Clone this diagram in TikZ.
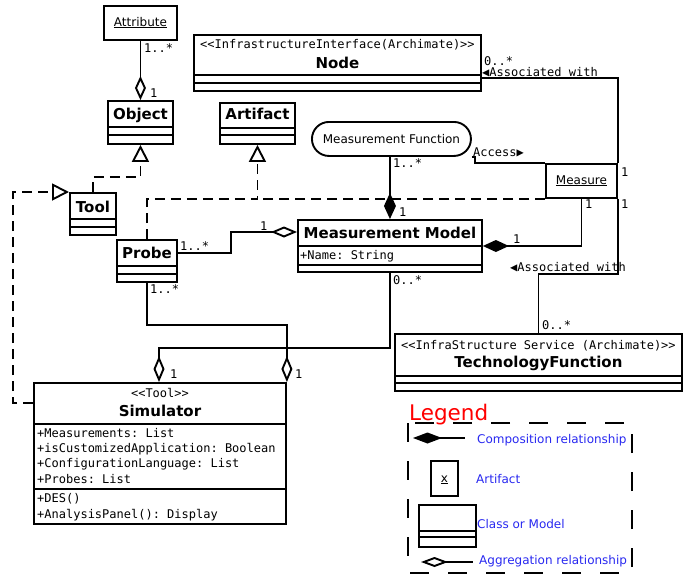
\documentclass[tikz,border=0pt]{standalone}
\usepackage{fontspec}
\setmainfont{DejaVu Sans}
\setmonofont{DejaVu Sans Mono}
\usetikzlibrary{arrows.meta,calc}

\definecolor{legblue}{RGB}{40,40,240}
\definecolor{legred}{RGB}{255,0,0}

% horizontal compartment line inside a class box, #2 pt below its top
\newcommand\compart[2]{\draw[sepline] ($(#1.north west)+(0,#2)$) -- ($(#1.north east)+(0,#2)$);}

\tikzset{
  box/.style={draw, line width=1.9pt, anchor=north west, inner sep=0pt, fill=white},
  sepline/.style={line width=1.9pt},
  conn/.style={line width=1.9pt},
  realize/.style={line width=1.9pt, dash pattern=on 10pt off 6pt},
  ttl/.style={font=\fontsize{15}{15}\selectfont\bfseries, anchor=base, inner sep=0pt},
  stereo/.style={font=\fontsize{12}{12}\selectfont\ttfamily, anchor=base, inner sep=0pt},
  attrtxt/.style={font=\fontsize{12}{12}\selectfont\ttfamily, anchor=base west, inner sep=0pt},
  sanstxt/.style={font=\fontsize{12}{12}\selectfont, anchor=base, inner sep=0pt},
  mult/.style={font=\fontsize{12}{12}\selectfont\ttfamily, anchor=base west, inner sep=0pt},
  legtxt/.style={font=\fontsize{12}{12}\selectfont, text=legblue, anchor=base west, inner sep=0pt},
  agg/.style={-{Diamond[open, length=26pt, width=11pt]}},
  comp/.style={-{Diamond[length=26pt, width=12pt]}},
  gen/.style={-{Triangle[open, length=17pt, width=17pt]}},
}

\begin{document}
\begin{tikzpicture}[x=1pt, y=-1pt]
\useasboundingbox (0,0) rectangle (689,576);

% ---------- classes ----------
\node[box, minimum width=73pt, minimum height=34pt] (attr) at (103,5) {};
\node[sanstxt] at ($(attr.north)+(0,21)$) {\underline{Attribute}};

\node[box, minimum width=65pt, minimum height=43pt] (obj) at (107,100) {};
\compart{obj}{27}\compart{obj}{35}
\node[ttl] at ($(obj.north)+(0,19)$) {Object};

\node[box, minimum width=75pt, minimum height=41pt] (art) at (219,102) {};
\compart{art}{26}\compart{art}{33}
\node[ttl] at ($(art.north)+(0,17)$) {Artifact};

\node[box, minimum width=287pt, minimum height=56pt] (node) at (193,34) {};
\compart{node}{41}\compart{node}{49}
\node[stereo] at ($(node.north)+(0,14)$) {<<InfrastructureInterface(Archimate)>>};
\node[ttl] at ($(node.north)+(0,34)$) {Node};

\node[box, rounded corners=17pt, minimum width=159pt, minimum height=34pt,
      font=\fontsize{12}{12}\selectfont] (mf) at (311,121) {Measurement Function};

\node[box, minimum width=71pt, minimum height=34pt] (measure) at (545,163) {};
\node[sanstxt] at ($(measure.north)+(0,21)$) {\underline{Measure}};

\node[box, minimum width=184pt, minimum height=52pt] (mm) at (297,219) {};
\compart{mm}{27}\compart{mm}{46}
\node[ttl] at ($(mm.north)+(0,19)$) {Measurement Model};
\node[attrtxt] at ($(mm.north west)+(3,40)$) {+Name: String};

\node[box, minimum width=46pt, minimum height=42pt] (tool) at (69,192) {};
\compart{tool}{27}\compart{tool}{35}
\node[ttl] at ($(tool.north)+(0,20)$) {Tool};

\node[box, minimum width=60pt, minimum height=42pt] (probe) at (116,239) {};
\compart{probe}{27}\compart{probe}{35}
\node[ttl] at ($(probe.north)+(0,19)$) {Probe};

\node[box, minimum width=252pt, minimum height=141pt] (sim) at (33,382) {};
\compart{sim}{42}\compart{sim}{107}
\node[stereo] at ($(sim.north)+(0,15)$) {<<Tool>>};
\node[ttl] at ($(sim.north)+(0,34)$) {Simulator};
\node[attrtxt] at ($(sim.north west)+(4,55)$) {+Measurements: List};
\node[attrtxt] at ($(sim.north west)+(4,70.3)$) {+isCustomizedApplication: Boolean};
\node[attrtxt] at ($(sim.north west)+(4,85.6)$) {+ConfigurationLanguage: List};
\node[attrtxt] at ($(sim.north west)+(4,101)$) {+Probes: List};
\node[attrtxt] at ($(sim.north west)+(4,120)$) {+DES()};
\node[attrtxt] at ($(sim.north west)+(4,136)$) {+AnalysisPanel(): Display};

\node[box, minimum width=287pt, minimum height=57pt] (tf) at (394,333) {};
\compart{tf}{43}\compart{tf}{50}
\node[stereo] at ($(tf.north)+(0,16)$) {<<InfraStructure Service (Archimate)>>};
\node[ttl] at ($(tf.north)+(0,34)$) {TechnologyFunction};

% ---------- generalisation / realisation (dashed) ----------
\draw[realize, gen] (tool.north) |- ($(obj.south)+(0,32)$) -- (obj.south);
\draw[realize, gen] ($(sim.north west)+(0,21)$) -- ++(-20,0) |- (tool.north west);
\coordinate (rj) at (art.south |- measure.south west);
\draw[realize] (measure.south west) -- (rj);
\draw[realize, gen] (probe.north) |- (rj) -- (art.south);

% ---------- aggregation / composition ----------
\draw[conn, -{Diamond[open, length=24pt, width=11pt]}] (attr.south) -- (obj.north);
\draw[conn, comp] (mm.north |- mf.south) -- (mm.north);
\draw[conn, agg] ($(probe.north east)+(0,14)$) -- ++(53,0) |- ($(mm.north west)+(0,13)$);
\draw[conn, comp] (measure.south) |- ($(mm.north east)+(0,27)$);
\coordinate (simL) at ($(sim.north west)+(126,0)$);
\draw[conn, agg] (mm.south) |- ($(simL)+(0,-34)$) -- (simL);
\draw[conn, agg] (probe.south) |- ($(sim.north east)+(0,-57)$) -- (sim.north east);

% ---------- associations ----------
\draw[conn] (mf.south east) -- ++(3,0) |- (measure.north west);
\draw[conn] ($(node.north east)+(0,44)$) -| (measure.north east);
\draw[conn] (measure.south east) |- ($(tf.north)+(0,-59)$) -- (tf.north);

% ---------- multiplicities and role names ----------
\node[mult] at (144,52) {1..*};
\node[mult] at (150,97) {1};
\node[mult] at (484,65) {0..*};
\node[mult] at (482,76) {◀Associated with};
\node[mult] at (473,156) {Access▶};
\node[mult] at (393,167) {1..*};
\node[mult] at (621,176) {1};
\node[mult] at (399,216) {1};
\node[mult] at (585,208) {1};
\node[mult] at (621,208) {1};
\node[mult] at (513,243) {1};
\node[mult] at (510,271) {◀Associated with};
\node[mult] at (393,284) {0..*};
\node[mult] at (542,329) {0..*};
\node[mult] at (180,250) {1..*};
\node[mult] at (260,230) {1};
\node[mult] at (150,293) {1..*};
\node[mult] at (170,378) {1};
\node[mult] at (295,378) {1};

% ---------- legend ----------
\node[anchor=base west, inner sep=0pt, text=legred, font=\fontsize{21.5}{21.5}\selectfont] (legtitle) at (409,420) {Legend};
\draw[line width=1.9pt, dash pattern=on 19pt off 19pt] (408,423) rectangle (632,573);

\coordinate (lc1) at (413,438); \coordinate (lc2) at (465,438);
\draw[conn, {Diamond[length=29pt, width=11pt]}-] (lc1) -- (lc2);
\node[legtxt] at (477,443) {Composition relationship};

\node[box, minimum width=27pt, minimum height=35pt] (legart) at (430,460) {};
\node[sanstxt] at ($(legart.north)+(0,22)$) {\underline{x}};
\node[legtxt] at (476,483) {Artifact};

\node[box, minimum width=57pt, minimum height=42pt] (legcls) at (418,504) {};
\compart{legcls}{27}\compart{legcls}{33}
\node[legtxt] at (477,528) {Class or Model};

\coordinate (la1) at (421,562); \coordinate (la2) at (473,562);
\draw[conn, {Diamond[open, length=27pt, width=10pt]}-] (la1) -- (la2);
\node[legtxt] at (479,564) {Aggregation relationship};
\end{tikzpicture}
\end{document}
